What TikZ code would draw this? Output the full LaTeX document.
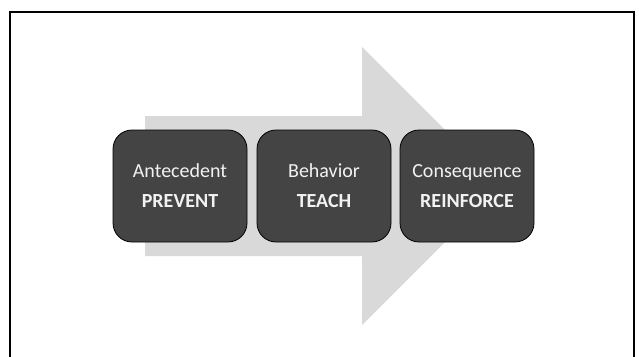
\documentclass[tikz,border=0pt]{standalone}
\usepackage{fontspec}
\setmainfont{Carlito}
\begin{document}
\begin{tikzpicture}[x=1pt,y=-1pt,
  stage/.style={draw=black, line width=0.8pt, fill=stagefill, rounded corners=19pt,
    minimum width=134pt, minimum height=112pt, inner sep=0pt,
    text=stagetext, align=center, font=\fontsize{20}{30}\selectfont},
  flow/.style={fill=flowgrey, draw=none}]
  \definecolor{stagefill}{HTML}{444444}
  \definecolor{stagetext}{HTML}{F2F2F2}
  \definecolor{flowgrey}{HTML}{D9D9D9}
  \useasboundingbox (0,0) rectangle (639,356);
  \fill[white] (0,0) rectangle (639,356);
  % slide frame, running past the lower edge
  \begin{scope}
    \clip (0,0) rectangle (639,356);
    \draw[line width=2pt] (10,12) rectangle (634,380);
  \end{scope}
  % broad process arrow behind the stages
  \fill[flow] (145,116) -- (362,116) -- (362,47) -- (501,186)
    -- (362,325) -- (362,256) -- (145,256) -- cycle;
  % stages
  \node[stage] (antecedent) at (180,186) {Antecedent\\\textbf{PREVENT}};
  \node[stage] (behavior) at (324,186) {Behavior\\\textbf{TEACH}};
  \node[stage] (consequence) at (467,186) {Consequence\\\textbf{REINFORCE}};
\end{tikzpicture}
\end{document}
